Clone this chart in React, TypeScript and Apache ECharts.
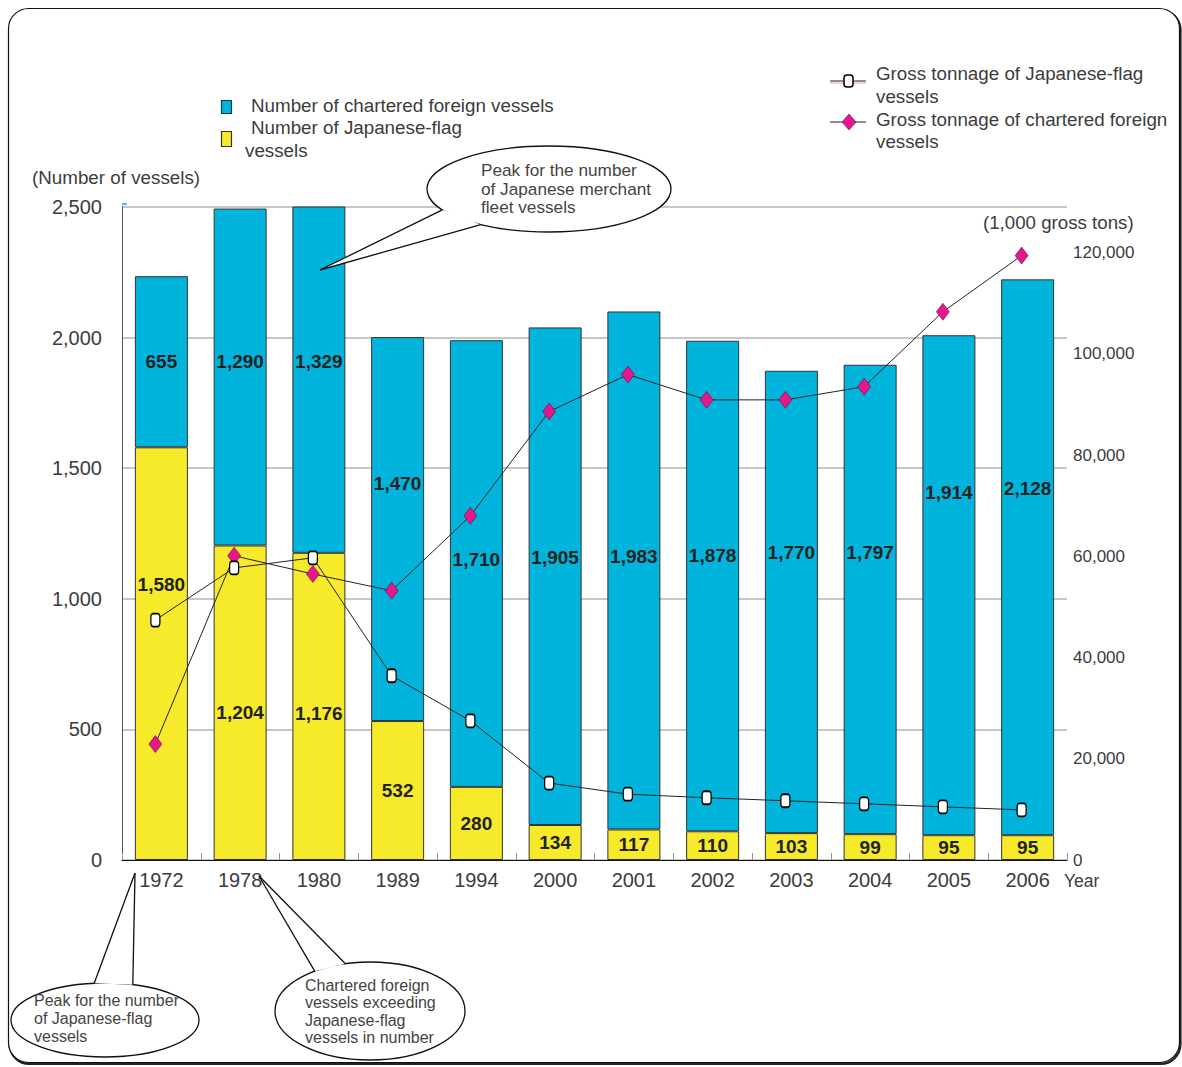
import React, { useEffect, useRef } from 'react';
import * as echarts from 'echarts';

const years = ['1972', '1978', '1980', '1989', '1994', '2000', '2001', '2002', '2003', '2004', '2005', '2006'];
const japaneseFlagVessels = [1580, 1204, 1176, 532, 280, 134, 117, 110, 103, 99, 95, 95];
const charteredForeignVessels = [655, 1290, 1329, 1470, 1710, 1905, 1983, 1878, 1770, 1797, 1914, 2128];
const japaneseFlagTonnage = [47400, 57700, 59700, 36400, 27500, 15200, 13000, 12300, 11700, 11100, 10500, 9900];
const charteredForeignTonnage = [22900, 60100, 56500, 53200, 68000, 88600, 95900, 90900, 90900, 93500, 108300, 119400];

// label vertical shifts (px) to match the reference's label placement
const japanLabelShift = [-69, 10, 7, 0, 0, 0, 0, 0, 0, 0, 0, 0];
const foreignLabelShift = [0, -16, -18, -46, -4, -19, -14, -31, -49, -47, -93, -69];

const NARROW = '"Liberation Sans Narrow", "Liberation Sans", Arial, sans-serif';
const REG = '"Liberation Sans", Arial, sans-serif';
const CYAN = '#00b4dc';
const YELLOW = '#f7ea2a';
const PINK = '#e5178a';
const TXT = '#3c3c3c';

const fmt = (v: number) => Number(v).toLocaleString('en-US');

function ePt(cx: number, cy: number, rx: number, ry: number, deg: number) {
  const t = (deg * Math.PI) / 180;
  return [cx + rx * Math.cos(t), cy + ry * Math.sin(t)];
}

function callout(
  cx: number, cy: number, rx: number, ry: number,
  tip: number[], a1: number, a2: number,
  lines: string[], tx: number, ty: number, lh: number, fs: number
) {
  const p1 = ePt(cx, cy, rx, ry, a1);
  const p2 = ePt(cx, cy, rx, ry, a2);
  const els: any[] = [
    { type: 'ellipse', z: 100, shape: { cx, cy, rx, ry }, style: { fill: '#fff', stroke: '#111', lineWidth: 1.3 } },
    { type: 'polygon', z: 101, shape: { points: [tip, p1, p2] }, style: { fill: '#fff', stroke: null } },
    { type: 'line', z: 102, shape: { x1: tip[0], y1: tip[1], x2: p1[0], y2: p1[1] }, style: { stroke: '#111', lineWidth: 1.3 } },
    { type: 'line', z: 102, shape: { x1: tip[0], y1: tip[1], x2: p2[0], y2: p2[1] }, style: { stroke: '#111', lineWidth: 1.3 } },
  ];
  lines.forEach((t, i) => {
    els.push({
      type: 'text', z: 103, x: tx, y: ty + i * lh,
      style: { text: t, font: `${fs}px ${REG}`, fill: '#444', textVerticalAlign: 'middle' },
    });
  });
  return els;
}

function txt(text: string, x: number, y: number, fs: number, font = REG, align = 'left') {
  return {
    type: 'text', z: 110, x, y,
    style: { text, font: `${fs}px ${font}`, fill: TXT, textVerticalAlign: 'middle', textAlign: align },
  };
}

export default function App() {
  const ref = useRef<HTMLDivElement>(null);
  useEffect(() => {
    if (!ref.current) return;
    const chart = echarts.init(ref.current, undefined, { renderer: 'svg' });
    const barLabel = {
      show: true,
      position: 'inside',
      fontSize: 19,
      fontWeight: 'bold',
      fontFamily: NARROW,
      color: '#222',
      formatter: (p: any) => fmt(p.value),
    };
    const option: any = {
      animation: false,
      backgroundColor: '#fff',
      grid: [
        { left: 122, top: 207, width: 945, height: 653 },
        { left: 116, top: 207, width: 945, height: 653 },
      ],
      xAxis: [
        {
          type: 'category', gridIndex: 0, data: years,
          axisLine: { lineStyle: { color: '#111', width: 1.2 } },
          axisTick: { show: true, inside: true, length: 7, lineStyle: { color: '#8a9aa5' } },
          axisLabel: { fontSize: 20, fontFamily: NARROW, color: TXT, margin: 10, interval: 0 },
        },
        { type: 'category', gridIndex: 1, data: years, show: false },
      ],
      yAxis: [
        {
          type: 'value', gridIndex: 0, min: 0, max: 2500, interval: 500,
          axisLine: { show: true, lineStyle: { color: '#555', width: 1 } },
          axisTick: { show: false },
          axisLabel: { fontSize: 20, fontFamily: NARROW, color: TXT, margin: 20, formatter: fmt },
          splitLine: { lineStyle: { color: '#b5b5b5', width: 1.5 } },
        },
        {
          type: 'value', gridIndex: 1, position: 'right', min: 0, max: 129000, interval: 20000,
          axisLine: { show: false }, axisTick: { show: false }, splitLine: { show: false },
          axisLabel: { fontSize: 17, fontFamily: NARROW, color: TXT, margin: 12, showMaxLabel: false, formatter: fmt },
        },
      ],
      series: [
        {
          name: 'Number of Japanese-flag vessels', type: 'bar', stack: 'n', barWidth: 53,
          xAxisIndex: 0, yAxisIndex: 0,
          itemStyle: { color: YELLOW, borderColor: '#333', borderWidth: 1 },
          label: barLabel,
          data: japaneseFlagVessels.map((v, i) => ({ value: v, label: { offset: [0, japanLabelShift[i]] } })),
        },
        {
          name: 'Number of chartered foreign vessels', type: 'bar', stack: 'n', barWidth: 53,
          xAxisIndex: 0, yAxisIndex: 0,
          itemStyle: { color: CYAN, borderColor: '#333', borderWidth: 1 },
          label: barLabel,
          data: charteredForeignVessels.map((v, i) => ({ value: v, label: { offset: [0, foreignLabelShift[i]] } })),
        },
        {
          name: 'Gross tonnage of chartered foreign vessels', type: 'line', xAxisIndex: 1, yAxisIndex: 1, z: 5,
          symbol: 'diamond', symbolSize: [13, 17],
          itemStyle: { color: PINK, borderColor: '#6a0a40', borderWidth: 0.6 },
          lineStyle: { color: '#222', width: 1 },
          data: charteredForeignTonnage,
        },
        {
          name: 'Gross tonnage of Japanese-flag vessels', type: 'line', xAxisIndex: 1, yAxisIndex: 1, z: 6,
          symbol: 'roundRect', symbolSize: [9, 13],
          itemStyle: { color: '#fff', borderColor: '#000', borderWidth: 1.5 },
          lineStyle: { color: '#222', width: 1 },
          data: japaneseFlagTonnage,
        },
      ],
      graphic: [
        // frame with bottom/right shadow
        { type: 'rect', z: 0, shape: { x: 9.5, y: 10, width: 1171, height: 1054, r: 20 }, style: { fill: '#fff', stroke: '#222', lineWidth: 2.2 } },
        { type: 'rect', z: 0, shape: { x: 8.5, y: 8.5, width: 1171, height: 1054, r: 20 }, style: { fill: '#fff', stroke: '#111', lineWidth: 1.2 } },
        // small cyan mark at top of left axis
        { type: 'line', z: 50, shape: { x1: 122, y1: 204, x2: 127, y2: 204 }, style: { stroke: CYAN, lineWidth: 1.5 } },
        // axis titles
        txt('(Number of vessels)', 32, 177, 18.8),
        txt('(1,000 gross tons)', 983, 222, 18.7),
        txt('Year', 1064, 881, 17.5),
        // left legend
        { type: 'rect', z: 110, shape: { x: 221.5, y: 100.5, width: 10, height: 13 }, style: { fill: CYAN, stroke: '#0b3a4a', lineWidth: 1.2 } },
        { type: 'rect', z: 110, shape: { x: 221.5, y: 131.5, width: 10, height: 15 }, style: { fill: YELLOW, stroke: '#333', lineWidth: 1.2 } },
        txt('Number of chartered foreign vessels', 251, 105, 18.8),
        txt('Number of Japanese-flag', 251, 127, 18.8),
        txt('vessels', 245, 150, 18.8),
        // right legend
        { type: 'line', z: 110, shape: { x1: 830, y1: 83, x2: 866, y2: 83 }, style: { stroke: '#e8a0c0', lineWidth: 1 } },
        { type: 'line', z: 110, shape: { x1: 830, y1: 81, x2: 866, y2: 81 }, style: { stroke: '#222', lineWidth: 1 } },
        { type: 'rect', z: 111, shape: { x: 844, y: 75, width: 9, height: 12, r: 3 }, style: { fill: '#fff', stroke: '#000', lineWidth: 1.5 } },
        txt('Gross tonnage of Japanese-flag', 876, 73, 18.8),
        txt('vessels', 876, 96, 18.8),
        { type: 'line', z: 110, shape: { x1: 830, y1: 122, x2: 866, y2: 122 }, style: { stroke: '#222', lineWidth: 1 } },
        { type: 'polygon', z: 111, shape: { points: [[849, 114], [856, 122], [849, 130], [842, 122]] }, style: { fill: PINK, stroke: '#6a0a40', lineWidth: 0.6 } },
        txt('Gross tonnage of chartered foreign', 876, 119, 18.8),
        txt('vessels', 876, 141, 18.8),
        // callouts
        ...callout(549, 189, 122, 43, [320, 270], 151, 124,
          ['Peak for the number', 'of Japanese merchant', 'fleet vessels'], 481, 170, 18.5, 17.2),
        ...callout(105, 1020, 94, 37, [135, 873], -96.6, -72.8,
          ['Peak for the number', 'of Japanese-flag', 'vessels'], 34, 1000, 18, 16),
        ...callout(370, 1011, 95, 49, [259, 876], -125.6, -105,
          ['Chartered foreign', 'vessels exceeding', 'Japanese-flag', 'vessels in number'], 305, 985, 17.5, 16),
      ],
    };
    chart.setOption(option);
    return () => chart.dispose();
  }, []);
  return <div ref={ref} style={{ position: 'absolute', left: 0, top: 0, width: 1182, height: 1067 }} />;
}
